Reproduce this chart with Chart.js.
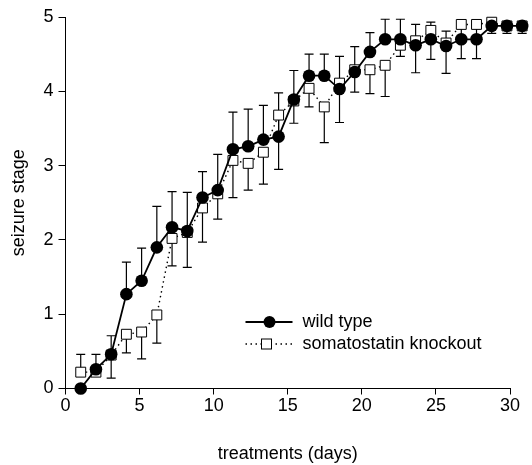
<!DOCTYPE html>
<html>
<head>
<meta charset="utf-8">
<script src="https://cdn.jsdelivr.net/npm/chart.js@4"></script>
<style>
  html, body { margin: 0; padding: 0; background: #fff; }
  #wrap { width: 532px; height: 465px; }
</style>
</head>
<body>
<div id="wrap"><canvas id="chart" width="532" height="465"></canvas></div>
<script>
// treatment days
const days = [1, 2, 3, 4, 5, 6, 7, 8, 9, 10, 11, 12, 13, 14, 15,
  16, 17, 18, 19, 20, 21, 22, 23, 24, 25, 26, 27, 28, 29, 30];

// mean seizure stage
const wildType = [0, 0.26, 0.46, 1.27, 1.45, 1.90, 2.17, 2.12, 2.57, 2.67,
  3.22, 3.26, 3.35, 3.39, 3.89, 4.21, 4.21, 4.03, 4.26, 4.53,
  4.70, 4.70, 4.62, 4.70, 4.61, 4.70, 4.70, 4.88, 4.88, 4.88];
const knockout = [0.22, 0.22, 0.45, 0.73, 0.76, 0.99, 2.02, 2.10, 2.43, 2.62,
  3.07, 3.03, 3.18, 3.68, 3.87, 4.04, 3.79, 4.11, 4.29, 4.29,
  4.35, 4.62, 4.68, 4.82, 4.65, 4.90, 4.90, 4.93, 4.88, 4.88];

// error bar ends (only the visible halves of the bars)
const wildTypeUpper = [null, 0.46, 0.71, 1.70, 1.89, 2.45, 2.65, 2.64, 2.92, 3.15,
  3.72, 3.76, 3.81, 3.98, 4.28, 4.50, 4.50, 4.47, 4.60, 4.79,
  4.97, 4.97, 4.90, 4.93, 4.81, null, null, 4.97, null, null];
const knockoutLower = [null, null, 0.14, 0.48, 0.40, 0.61, 1.65, 1.63, 1.97, 2.28,
  2.57, 2.67, 2.75, 2.95, 3.57, 3.79, 3.31, 3.58, 3.99, 3.97,
  3.93, 4.47, 4.25, 4.43, 4.24, 4.44, 4.44, 4.78, 4.78, 4.78];
const knockoutUpper = [0.46, null, null, null, null, null, null, null, null, null,
  null, null, null, null, null, null, null, null, null, null,
  null, null, null, null, null, null, null, null, null, null];

const xTicks = [0, 5, 10, 15, 20, 25, 30];
const yTicks = [0, 1, 2, 3, 4, 5];
const seriesNames = ["wild type", "somatostatin knockout"];

const FONT = "'Liberation Sans', Arial, sans-serif";

const toPoints = values => days.map((d, i) => ({ x: d, y: values[i] }));

// vertical error bars with a cap at the far end
const errorBars = {
  id: "errorBars",
  beforeDatasetsDraw(chart) {
    const { ctx } = chart;
    const xs = chart.scales.xData;
    const ys = chart.scales.y;
    ctx.save();
    ctx.strokeStyle = "#000";
    ctx.lineWidth = 1.2;
    const draw = (values, ends) => {
      days.forEach((d, i) => {
        if (ends[i] == null) return;
        const x = xs.getPixelForValue(d);
        const y0 = ys.getPixelForValue(values[i]);
        const y1 = ys.getPixelForValue(ends[i]);
        ctx.beginPath();
        ctx.moveTo(x, y0);
        ctx.lineTo(x, y1);
        ctx.moveTo(x - 4.5, y1);
        ctx.lineTo(x + 4.5, y1);
        ctx.stroke();
      });
    };
    draw(wildType, wildTypeUpper);
    draw(knockout, knockoutLower);
    draw(knockout, knockoutUpper);
    ctx.restore();
  }
};

// legend drawn inside the plot, line + marker samples
const innerLegend = {
  id: "innerLegend",
  afterDraw(chart) {
    const { ctx, chartArea } = chart;
    const x0 = chartArea.left + 180;
    const y0 = chartArea.top + 305;
    ctx.save();
    ctx.strokeStyle = "#000";
    ctx.fillStyle = "#000";
    ctx.font = "18px " + FONT;
    ctx.textBaseline = "middle";

    // wild type
    ctx.lineWidth = 1.8;
    ctx.beginPath();
    ctx.moveTo(x0, y0);
    ctx.lineTo(x0 + 47, y0);
    ctx.stroke();
    ctx.beginPath();
    ctx.arc(x0 + 24, y0, 6, 0, Math.PI * 2);
    ctx.fill();
    ctx.fillText(seriesNames[0], x0 + 57, y0);

    // knockout
    const y1 = y0 + 22;
    ctx.lineWidth = 1.4;
    ctx.setLineDash([1.5, 3.5]);
    ctx.beginPath();
    ctx.moveTo(x0, y1);
    ctx.lineTo(x0 + 47, y1);
    ctx.stroke();
    ctx.setLineDash([]);
    ctx.fillStyle = "#fff";
    ctx.fillRect(x0 + 16, y1 - 5, 10, 10);
    ctx.lineWidth = 1;
    ctx.strokeRect(x0 + 16, y1 - 5, 10, 10);
    ctx.fillStyle = "#000";
    ctx.fillText(seriesNames[1], x0 + 57, y1);
    ctx.restore();
  }
};

new Chart(document.getElementById("chart"), {
  type: "line",
  data: {
    datasets: [
      {
        label: seriesNames[0],
        data: toPoints(wildType),
        xAxisID: "xData",
        borderColor: "#000",
        borderWidth: 1.8,
        pointStyle: "circle",
        pointRadius: 6.3,
        // never hovered (events off); widens the in-area margin so the
        // day 30 marker past the axis end still gets drawn
        pointHoverRadius: 16,
        pointBackgroundColor: "#000",
        pointBorderColor: "#000",
        pointBorderWidth: 0,
        clip: false
      },
      {
        label: seriesNames[1],
        data: toPoints(knockout),
        xAxisID: "xData",
        borderColor: "#000",
        borderWidth: 1.4,
        borderDash: [1.5, 3.5],
        pointStyle: "rect",
        pointRadius: 7,
        pointHoverRadius: 16,
        pointBackgroundColor: "#fff",
        pointBorderColor: "#000",
        pointBorderWidth: 1,
        clip: false
      }
    ]
  },
  options: {
    responsive: false,
    animation: false,
    events: [],
    layout: { padding: { left: 0, right: 22, top: 16, bottom: 0 } },
    plugins: {
      legend: { display: false },
      tooltip: { enabled: false }
    },
    scales: {
      x: {
        type: "linear",
        position: "bottom",
        min: 0,
        max: 30,
        afterBuildTicks: scale => { scale.ticks = xTicks.map(v => ({ value: v })); },
        afterFit: scale => { scale.height = 76.5; },
        ticks: { color: "#000", font: { family: FONT, size: 18 }, padding: 1, maxRotation: 0 },
        grid: { drawOnChartArea: false, color: "#000", tickLength: 6, tickWidth: 1 },
        border: { color: "#000", width: 1 },
        title: {
          display: true,
          text: "treatments (days)",
          color: "#000",
          font: { family: FONT, size: 18 },
          padding: { top: 0, bottom: 0 }
        }
      },
      xData: {
        type: "linear",
        display: false,
        min: 0,
        max: 29.2
      },
      y: {
        type: "linear",
        min: 0,
        max: 5,
        afterBuildTicks: scale => { scale.ticks = yTicks.map(v => ({ value: v })); },
        afterFit: scale => { scale.width = 65.5; },
        ticks: { color: "#000", font: { family: FONT, size: 18 }, padding: 5 },
        grid: { drawOnChartArea: false, color: "#000", tickLength: 7, tickWidth: 1 },
        border: { color: "#000", width: 1 },
        title: {
          display: true,
          text: "seizure stage",
          color: "#000",
          font: { family: FONT, size: 18 },
          padding: { top: 8, bottom: 0 }
        }
      }
    }
  },
  plugins: [errorBars, innerLegend]
});
</script>
</body>
</html>
